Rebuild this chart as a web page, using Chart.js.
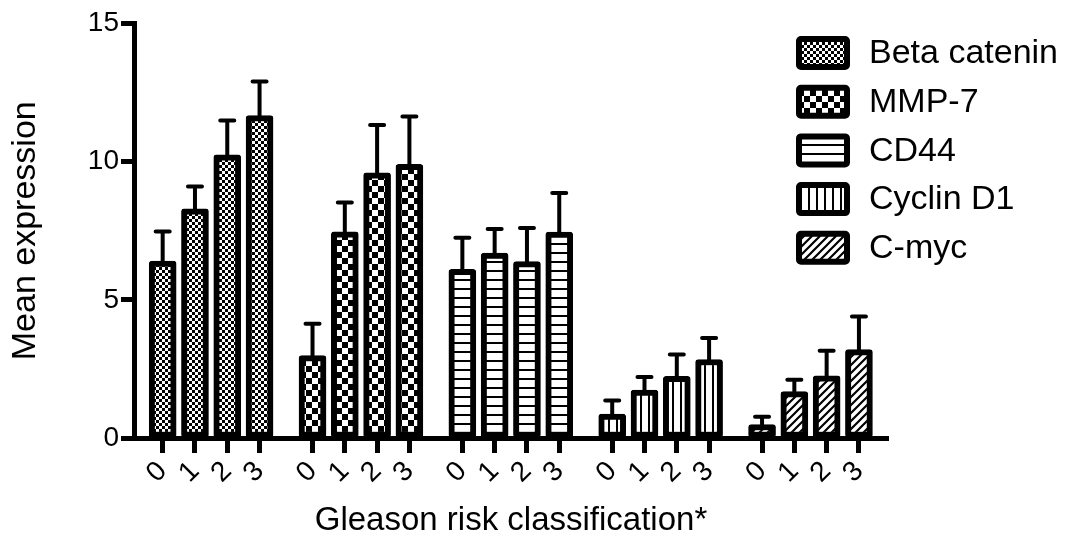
<!DOCTYPE html>
<html>
<head>
<meta charset="utf-8">
<script src="https://cdn.jsdelivr.net/npm/chart.js@4.4.1/dist/chart.umd.min.js"></script>
<style>
  html, body { margin: 0; padding: 0; background: #fff; }
</style>
</head>
<body>
<canvas id="gleasonChart" width="1069" height="543"></canvas>
<script>
// markers (one group of bars each) and the Gleason risk classes inside a group
const markers = ["Beta catenin", "MMP-7", "CD44", "Cyclin D1", "C-myc"];
const classes = ["0", "1", "2", "3"];
const yTicks = [0, 5, 10, 15];

// mean expression per class
const betaCatenin = [6.40, 8.29, 10.25, 11.67];
const mmp7 = [2.98, 7.46, 9.60, 9.90];
const cd44 = [6.10, 6.69, 6.38, 7.45];
const cyclinD1 = [0.87, 1.73, 2.23, 2.84];
const cMyc = [0.49, 1.68, 2.25, 3.20];

// upper error bar length
const betaCateninErr = [1.07, 0.81, 1.24, 1.23];
const mmp7Err = [1.15, 1.06, 1.73, 1.73];
const cd44Err = [1.15, 0.87, 1.22, 1.42];
const cyclinD1Err = [0.49, 0.48, 0.79, 0.78];
const cMycErr = [0.28, 0.43, 0.91, 1.20];

const means = [betaCatenin, mmp7, cd44, cyclinD1, cMyc];
const errors = [betaCateninErr, mmp7Err, cd44Err, cyclinD1Err, cMycErr];

const FONT = "'Liberation Sans', Arial, sans-serif";
Chart.defaults.font.family = FONT;
Chart.defaults.color = "#000";

// fill patterns like the prism ones
function makePattern(kind) {
  const c = document.createElement("canvas");
  const g = c.getContext("2d");
  let s = 6;
  if (kind == "bigcheck") s = 12;
  if (kind == "hlines") s = 9;
  if (kind == "vlines") s = 8;
  if (kind == "hatch") s = 8;
  c.width = s;
  c.height = s;
  g.fillStyle = "#fff";
  g.fillRect(0, 0, s, s);
  g.fillStyle = "#000";
  g.strokeStyle = "#000";
  if (kind == "check" || kind == "bigcheck") {
    g.fillRect(0, 0, s / 2, s / 2);
    g.fillRect(s / 2, s / 2, s / 2, s / 2);
  } else if (kind == "hlines") {
    g.fillRect(0, 0, s, 2);
  } else if (kind == "vlines") {
    g.fillRect(0, 0, 2, s);
  } else if (kind == "hatch") {
    g.lineWidth = 2.2;
    g.beginPath();
    g.moveTo(-1, s + 1);
    g.lineTo(s + 1, -1);
    g.moveTo(-1, 1);
    g.lineTo(1, -1);
    g.moveTo(s - 1, s + 1);
    g.lineTo(s + 1, s - 1);
    g.stroke();
  }
  return g.createPattern(c, "repeat");
}

const patterns = ["check", "bigcheck", "hlines", "vlines", "hatch"].map(makePattern);

// x positions: 4 bars per group, wider gap between groups
const groupStep = 4.64;
const tickPositions = [];
markers.forEach((m, g) => classes.forEach((c, i) => tickPositions.push(g * groupStep + i)));

const datasets = markers.map((name, g) => ({
  label: name,
  data: means[g].map((v, i) => ({ x: g * groupStep + i, y: v })),
  errors: errors[g],
  backgroundColor: patterns[g],
  borderColor: "#000",
  borderWidth: 6,
  borderRadius: 3,
  borderSkipped: false,
  barThickness: 27,
  grouped: false,
}));

const errorBars = {
  id: "errorBars",
  afterDatasetsDraw(chart) {
    const ctx = chart.ctx;
    const yScale = chart.scales.y;
    ctx.save();
    ctx.strokeStyle = "#000";
    ctx.lineWidth = 4;
    ctx.lineCap = "round";
    chart.data.datasets.forEach((ds, d) => {
      const meta = chart.getDatasetMeta(d);
      meta.data.forEach((bar, i) => {
        const top = yScale.getPixelForValue(ds.data[i].y + ds.errors[i]);
        ctx.beginPath();
        ctx.moveTo(bar.x, bar.y);
        ctx.lineTo(bar.x, top);
        ctx.moveTo(bar.x - 7, top);
        ctx.lineTo(bar.x + 7, top);
        ctx.stroke();
      });
    });
    ctx.restore();
  },
};

// legend at the right, drawn with the same patterns
const sideLegend = {
  id: "sideLegend",
  afterDraw(chart) {
    const ctx = chart.ctx;
    const left = chart.chartArea.right - 89;
    ctx.save();
    ctx.font = "34px " + FONT;
    ctx.textBaseline = "middle";
    chart.data.datasets.forEach((ds, i) => {
      const top = 39 + i * 48.7;
      ctx.beginPath();
      ctx.roundRect(left, top, 48, 28, 2);
      ctx.fillStyle = ds.backgroundColor;
      ctx.fill();
      ctx.lineWidth = 6;
      ctx.strokeStyle = "#000";
      ctx.stroke();
      ctx.fillStyle = "#000";
      ctx.fillText(ds.label, left + 70, top + 15);
    });
    ctx.restore();
  },
};

new Chart(document.getElementById("gleasonChart"), {
  type: "bar",
  data: { datasets: datasets },
  plugins: [errorBars, sideLegend],
  options: {
    responsive: false,
    animation: false,
    layout: { padding: { top: 23.5, right: 181, left: 0, bottom: 0 } },
    plugins: {
      legend: { display: false },
      tooltip: { enabled: false },
    },
    scales: {
      x: {
        type: "linear",
        offset: false,
        min: -0.888,
        max: 22.46,
        afterBuildTicks: (scale) => {
          scale.ticks = tickPositions.map((v) => ({ value: v }));
        },
        afterFit: (scale) => {
          scale.height = 105;
        },
        border: { display: true, width: 5, color: "#000" },
        grid: {
          offset: false,
          drawOnChartArea: false,
          drawTicks: true,
          tickLength: 15,
          tickWidth: 5,
          tickColor: "#000",
        },
        ticks: {
          autoSkip: false,
          minRotation: 45,
          maxRotation: 45,
          padding: 2,
          font: { size: 28 },
          callback: (value, index) => classes[index % 4],
        },
        title: {
          display: true,
          text: "Gleason risk classification*",
          font: { size: 33 },
          padding: { top: 0, bottom: 2 },
        },
      },
      y: {
        min: 0,
        max: 15,
        afterBuildTicks: (scale) => {
          scale.ticks = yTicks.map((v) => ({ value: v }));
        },
        afterFit: (scale) => {
          scale.width = 134;
        },
        border: { display: true, width: 5, color: "#000" },
        grid: {
          drawOnChartArea: false,
          drawTicks: true,
          tickLength: 13,
          tickWidth: 5,
          tickColor: "#000",
        },
        ticks: {
          padding: 2,
          font: { size: 28 },
        },
        title: {
          display: true,
          text: "Mean expression",
          font: { size: 34 },
          padding: { top: 5, bottom: 0 },
        },
      },
    },
  },
});
</script>
</body>
</html>
